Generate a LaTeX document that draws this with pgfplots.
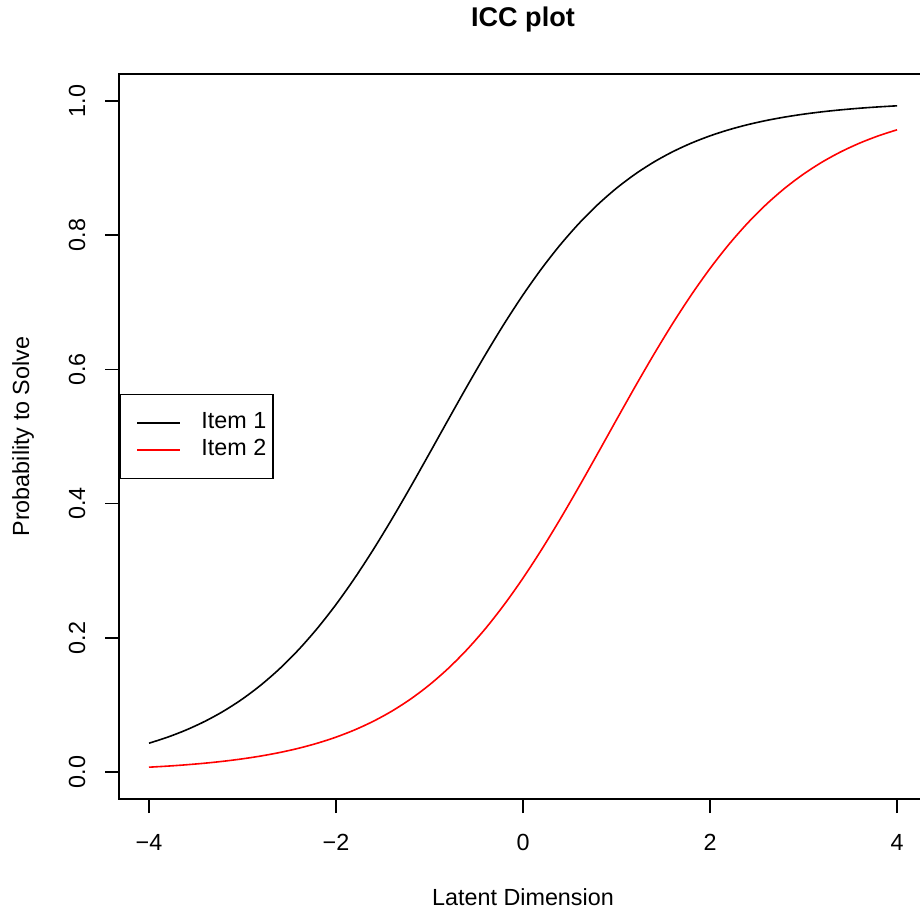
\documentclass[border=0pt]{standalone}
\usepackage{pgfplots}
\pgfplotsset{compat=1.18}
\usepackage{fontspec}
\setmainfont{Liberation Sans}

\pgfplotstableread{
theta p1 p2
-4.0 0.04311 0.00739
-3.8 0.05215 0.00901
-3.6 0.06297 0.01099
-3.4 0.07586 0.01339
-3.2 0.09112 0.01630
-3.0 0.10910 0.01984
-2.8 0.13011 0.02413
-2.6 0.15447 0.02931
-2.4 0.18243 0.03557
-2.2 0.21416 0.04311
-2.0 0.24974 0.05215
-1.8 0.28905 0.06297
-1.6 0.33181 0.07586
-1.4 0.37754 0.09112
-1.2 0.42556 0.10910
-1.0 0.47502 0.13011
-0.8 0.52498 0.15447
-0.6 0.57444 0.18243
-0.4 0.62246 0.21416
-0.2 0.66819 0.24974
0.0 0.71095 0.28905
0.2 0.75026 0.33181
0.4 0.78584 0.37754
0.6 0.81757 0.42556
0.8 0.84553 0.47502
1.0 0.86989 0.52498
1.2 0.89090 0.57444
1.4 0.90888 0.62246
1.6 0.92414 0.66819
1.8 0.93703 0.71095
2.0 0.94785 0.75026
2.2 0.95689 0.78584
2.4 0.96443 0.81757
2.6 0.97069 0.84553
2.8 0.97587 0.86989
3.0 0.98016 0.89090
3.2 0.98370 0.90888
3.4 0.98661 0.92414
3.6 0.98901 0.93703
3.8 0.99099 0.94785
4.0 0.99261 0.95689
}\icc

\begin{document}
\begin{tikzpicture}
\path[use as bounding box] (0,0) rectangle (690pt,683.25pt);
\begin{axis}[
	at={(89.3pt,84pt)}, anchor=south west,
	scale only axis,
	width=605.9pt, height=543.75pt,
	xmin=-4.32, xmax=4.32,
	ymin=-0.04, ymax=1.04,
	axis line style={line width=1.2pt},
	every tick/.style={black, line width=1.2pt},
	tick align=outside,
	major tick length=10.5pt,
	xtick={-4,-2,0,2,4},
	xticklabels={−4,−2,0,2,4},
	ytick={0,0.2,0.4,0.6,0.8,1},
	yticklabels={0.0,0.2,0.4,0.6,0.8,1.0},
	xtick pos=bottom, ytick pos=left,
	ticklabel style={font=\fontsize{17.5}{20}\selectfont},
	xticklabel shift=12.25pt,
	yticklabel style={rotate=90, anchor=south},
	yticklabel shift=11.25pt,
	title={\textbf{ICC plot}},
	title style={font=\fontsize{20.3}{24}\selectfont, at={(axis description cs:0.5,1)}, anchor=base, yshift=29.25pt},
	xlabel={Latent Dimension},
	xlabel style={font=\fontsize{17.5}{20}\selectfont, at={(axis description cs:0.5,0)}, anchor=base, yshift=-79.5pt},
	ylabel={Probability to Solve},
	ylabel style={font=\fontsize{17.5}{20}\selectfont, at={(axis description cs:0,0.5)}, anchor=base, yshift=67.5pt},
	legend style={at={(axis description cs:0,0.5)}, anchor=west, draw=black, line width=1.2pt,
		font=\fontsize{17.5}{20}\selectfont, inner xsep=5pt, inner ysep=13.2pt, row sep=3.95pt,
		nodes={inner sep=0pt, text height=12.6pt, text depth=3.7pt},
		/tikz/every odd column/.append style={column sep=15.5pt}},
	legend cell align=left,
	legend image code/.code={\path (0pt,0pt) -- (0pt,0pt);\draw[#1, line width=1.2pt] (7.5pt,0pt) -- (39.5pt,0pt);},
]
\addplot[black, line width=1.2pt, smooth] table[x=theta, y=p1] {\icc};
\addlegendentry{Item 1}
\addplot[red, line width=1.2pt, smooth] table[x=theta, y=p2] {\icc};
\addlegendentry{Item 2}
\end{axis}
\end{tikzpicture}
\end{document}
